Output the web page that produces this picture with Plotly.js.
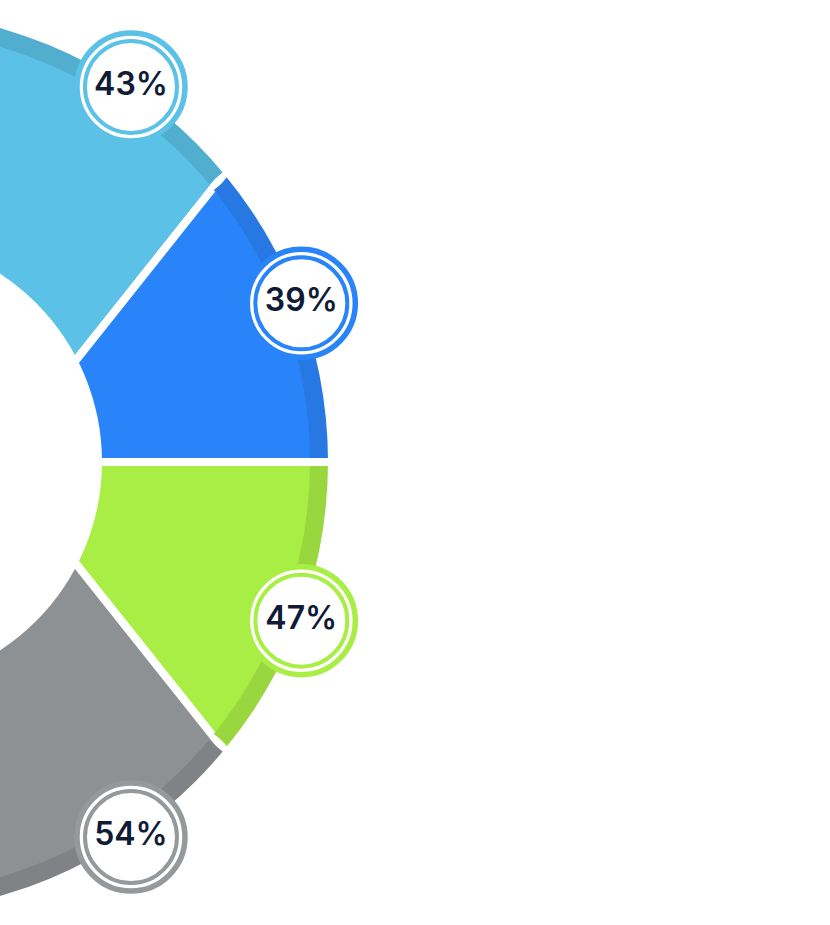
<!DOCTYPE html>
<html><head><meta charset="utf-8">
<script src="https://cdn.plot.ly/plotly-3.0.1.min.js"></script>
<style>
html,body{margin:0;padding:0;width:830px;height:925px;overflow:hidden;background:#fff;}
body{position:relative;}
#chart{position:absolute;}
</style></head><body><div id="chart"></div>
<script>
// ---- data ----
const categories = ['Segment 1', 'Segment 2', 'Segment 3', 'Segment 4'];
const values = [43, 39, 47, 54];
const valueLabels = values.map(v => v + '%');
const fillColors = ['#5BC1E6', '#2984FA', '#A8EE44', '#8E9194'];
const bandColors = ['#52AECF', '#2778E2', '#98D73E', '#808286'];
const ringColors = ['#5BC1E6', '#2984FA', '#A8EE44', '#96999C'];

// ---- geometry (layout only) ----
// ring centre (off-canvas) and the point the segment cuts radiate from
const Cx = -123, Cy = 462, Px = -5, Py = 462;
const rC = 600, rP = 470;
const sliceFrom = [51.5, 0, -51.5, -150];
const sliceTo = [150, 51.5, 0, -51.5];
const labelAngle = [55.9, 20.5, -20.5, -55.9];
const innerR = 225, outerR = 451, bandR = 433, gap = 8, labelR = 453;

const W = 2 * rC;
const divLeft = Cx - rC, divTop = Cy - rC;
const el = document.getElementById('chart');
el.style.left = divLeft + 'px'; el.style.top = divTop + 'px';
el.style.width = W + 'px'; el.style.height = W + 'px';
const pDomX = [(Px - rP - divLeft) / W, (Px + rP - divLeft) / W];
const pDomY = [1 - (Py + rP - divTop) / W, 1 - (Py - rP - divTop) / W];

const deg = Math.PI / 180;
// angle (seen from ring centre) where a cut from P meets radius rr
function cutToRing(a, rr) {
  if (Math.abs(a) < 1e-9) return 0;
  const dx = Px - Cx, ca = Math.cos(a * deg), sa = Math.sin(a * deg);
  const t = (-2 * dx * ca + Math.sqrt(4 * dx * dx * ca * ca - 4 * (dx * dx - rr * rr))) / 2;
  return Math.atan2(t * sa, dx + t * ca) / deg;
}
const bandMid = (bandR + outerR) / 2;
const gapDeg = gap / bandMid / deg;
const bandFrom = sliceFrom.map(a => Math.abs(a) > 100 ? a : cutToRing(a, bandMid));
const bandTo = sliceTo.map(a => Math.abs(a) > 100 ? a : cutToRing(a, bandMid));

const centers = sliceFrom.map((a, i) => (a + sliceTo[i]) / 2);
const spans = sliceFrom.map((a, i) => sliceTo[i] - a);
const bCenters = bandFrom.map((a, i) => (a + bandTo[i]) / 2);
const bSpans = bandFrom.map((a, i) => bandTo[i] - a - gapDeg);

const traces = [
  { // coloured segments (cuts radiate from P)
    type: 'barpolar', subplot: 'polar', text: categories,
    theta: centers, width: spans,
    base: categories.map(() => 0), r: categories.map(() => rP),
    marker: {color: fillColors, line: {color: '#ffffff', width: gap}},
    hoverinfo: 'skip'
  },
  { // darker outer band
    type: 'barpolar', subplot: 'polar2',
    theta: bCenters, width: bSpans,
    base: categories.map(() => bandR), r: categories.map(() => outerR + 1 - bandR),
    marker: {color: bandColors, line: {width: 0}},
    hoverinfo: 'skip'
  },
  { // ring hole and outside of ring
    type: 'barpolar', subplot: 'polar2',
    theta: [90, 270, 90, 270], width: [180, 180, 180, 180],
    base: [0, 0, outerR, outerR], r: [innerR, innerR, rC - outerR, rC - outerR],
    marker: {color: '#ffffff', line: {width: 0}},
    hoverinfo: 'skip'
  },
  {
    type: 'scatterpolar', subplot: 'polar2', mode: 'markers',
    r: categories.map(() => labelR), theta: labelAngle,
    marker: {size: 108, color: '#ffffff', line: {color: ringColors, width: 5.5}},
    hoverinfo: 'skip'
  },
  {
    type: 'scatterpolar', subplot: 'polar2', mode: 'markers+text',
    r: categories.map(() => labelR), theta: labelAngle,
    text: valueLabels, textposition: 'middle center',
    textfont: {family: 'Inter, Lato, sans-serif', size: 32, weight: 600, color: '#111B35'},
    marker: {size: 92, color: '#ffffff', line: {color: ringColors, width: 4}},
    hoverinfo: 'skip'
  }
];

const hiddenRadial = r => ({visible: false, range: [0, r], showgrid: false, showline: false, showticklabels: false, ticks: ''});
const hiddenAngular = {visible: false, showgrid: false, showline: false, showticklabels: false, ticks: '', rotation: 0, direction: 'counterclockwise'};

const layout = {
  width: W, height: W,
  margin: {l: 0, r: 0, t: 0, b: 0, pad: 0},
  paper_bgcolor: '#ffffff',
  showlegend: false,
  polar: {
    domain: {x: pDomX, y: pDomY},
    bgcolor: 'rgba(0,0,0,0)', barmode: 'overlay',
    radialaxis: hiddenRadial(rP), angularaxis: hiddenAngular
  },
  polar2: {
    domain: {x: [0, 1], y: [0, 1]},
    bgcolor: 'rgba(0,0,0,0)', barmode: 'overlay',
    radialaxis: hiddenRadial(rC), angularaxis: hiddenAngular
  }
};

Plotly.newPlot('chart', traces, layout, {staticPlot: true, displayModeBar: false});
</script>
</body></html>
